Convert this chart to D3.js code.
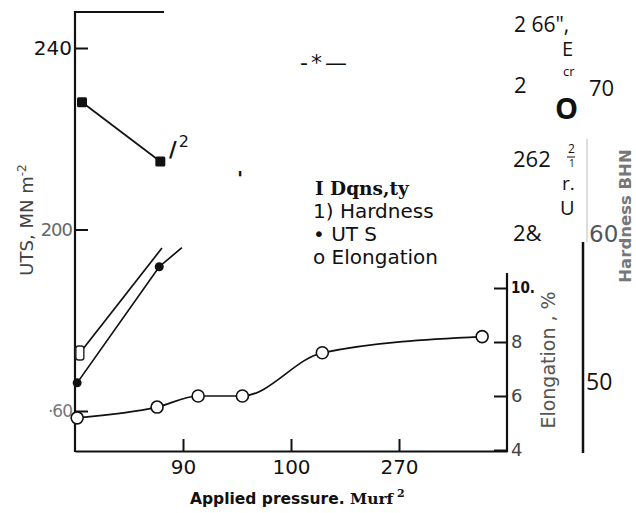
<!DOCTYPE html>
<html>
<head>
<meta charset="utf-8">
<script src="https://cdn.jsdelivr.net/npm/d3@7/dist/d3.min.js"></script>
<style>
  html, body { margin: 0; padding: 0; background: #fff; }
  svg { display: block; }
</style>
</head>
<body>
<svg id="chart" width="636" height="513"></svg>
<script>
// ---------------- data ----------------
const pressureTickPos = [1, 2, 3];
const pressureTickLabels = ["90", "100", "270"];

const utsTickValues = [240, 200, 160];
const utsTickLabels = ["240", "200", "·60"];

const elongTickValues = [10, 8, 6, 4];
const elongTickLabels = ["10.", "8", "6", "4"];

const hardTickValues = [60, 50];
const hardTickLabels = ["60", "50"];

// hardness, upper curve (filled squares)
const hardTopX = [0.065, 0.79];
const hardTop = [68.9, 64.9];

// hardness, lower curve (open square start, fades out)
const hardLowX = [0.045, 0.805];
const hardLow = [51.96, 59.05];

// UTS (filled dots), last point where trace fades out
const utsX = [0.02, 0.78, 0.99];
const utsVal = [166.2, 191.8, 196.0];

// elongation (open circles)
const elongX = [0.02, 0.76, 1.14, 1.55, 2.29, 3.77];
const elongVal = [5.19, 5.59, 6.0, 6.0, 7.6, 8.2];

// ---------------- scales ----------------
const svg = d3.select("#chart");
const x = d3.scaleLinear().domain([0, 4]).range([75, 507]);
const yUTS = d3.scaleLinear().domain([160, 240]).range([411, 48]);
const yHard = d3.scaleLinear().domain([50, 70]).range([382, 86]);
const yEl = d3.scaleLinear().domain([4, 10]).range([450, 288]);

const SANS = "'DejaVu Sans', sans-serif";
const OPEN = "'Open Sans', 'DejaVu Sans', sans-serif";

// ---------------- frame ----------------
const frame = svg.append("g").attr("stroke", "#111").attr("stroke-width", 2.2).attr("fill", "none");
frame.append("line").attr("x1", x(0)).attr("x2", x(0)).attr("y1", 11).attr("y2", 452);
frame.append("line").attr("x1", x(0)).attr("x2", 164).attr("y1", 12).attr("y2", 12);
frame.append("line").attr("x1", x(4)).attr("x2", x(4)).attr("y1", 273).attr("y2", 452);

// bottom axis
const xAxis = d3.axisBottom(x)
  .tickValues(pressureTickPos)
  .tickSizeInner(-12).tickSizeOuter(0)
  .tickPadding(9)
  .tickFormat((d, i) => pressureTickLabels[i]);
const gx = svg.append("g").attr("transform", "translate(0,451)").call(xAxis);
gx.select(".domain").attr("stroke", "#111").attr("stroke-width", 2.2);
gx.selectAll(".tick line").attr("stroke", "#111").attr("stroke-width", 2);
gx.selectAll(".tick text").attr("font-family", SANS).attr("font-size", 20).attr("fill", "#111");

// left axis (ticks inward)
const yAxisL = d3.axisLeft(yUTS).tickValues(utsTickValues).tickSizeInner(-13).tickSizeOuter(0).tickFormat("");
const gl = svg.append("g").attr("transform", `translate(${x(0)},0)`).call(yAxisL);
gl.select(".domain").remove();
gl.selectAll(".tick line").attr("stroke", "#111").attr("stroke-width", 2);

const utsLabStyle = [
  {size: 20, fill: "#111", fam: SANS},
  {size: 18, fill: "#666", fam: SANS},
  {size: 17, fill: "#777", fam: SANS}
];
svg.append("g").selectAll("text").data(utsTickValues).join("text")
  .attr("x", 72).attr("y", d => yUTS(d))
  .attr("dy", "0.36em")
  .attr("text-anchor", "end")
  .attr("font-family", (d, i) => utsLabStyle[i].fam)
  .attr("font-size", (d, i) => utsLabStyle[i].size)
  .attr("fill", (d, i) => utsLabStyle[i].fill)
  .attr("letter-spacing", (d, i) => i === 0 ? 0 : -1)
  .text((d, i) => utsTickLabels[i]);

// elongation axis (ticks inward, to the left)
const yAxisR = d3.axisLeft(yEl).tickValues(elongTickValues).tickSizeInner(13).tickSizeOuter(0).tickFormat("");
const gr = svg.append("g").attr("transform", `translate(${x(4)},0)`).call(yAxisR);
gr.select(".domain").remove();
gr.selectAll(".tick line").attr("stroke", "#111").attr("stroke-width", 2);
svg.append("g").selectAll("text").data(elongTickValues).join("text")
  .attr("x", 511).attr("y", d => yEl(d))
  .attr("dy", "0.36em")
  .attr("font-family", (d, i) => i === 0 ? "'DejaVu Sans Condensed', " + SANS : SANS)
  .attr("font-weight", (d, i) => i === 0 ? "bold" : "normal")
  .attr("font-size", (d, i) => i === 0 ? 15 : 18)
  .attr("fill", (d, i) => i === 0 ? "#111" : "#444")
  .text((d, i) => elongTickLabels[i]);

// hardness axis
svg.append("line").attr("x1", 587).attr("x2", 587).attr("y1", 139).attr("y2", 242)
  .attr("stroke", "#bbb").attr("stroke-width", 1);
svg.append("line").attr("x1", 583).attr("x2", 583).attr("y1", 242).attr("y2", 453)
  .attr("stroke", "#111").attr("stroke-width", 2.5);
svg.append("g").selectAll("text").data(hardTickValues).join("text")
  .attr("x", (d, i) => i === 0 ? 589 : 586)
  .attr("y", d => yHard(d))
  .attr("dy", "0.36em")
  .attr("font-family", (d, i) => i === 0 ? SANS : OPEN)
  .attr("font-size", 23)
  .attr("fill", (d, i) => i === 0 ? "#555" : "#111")
  .text((d, i) => hardTickLabels[i]);

// axis titles
svg.append("text")
  .attr("transform", "translate(33,220) rotate(-90)")
  .attr("text-anchor", "middle")
  .attr("font-family", SANS).attr("font-size", 18).attr("fill", "#444")
  .html("UTS, MN m<tspan dy='-7' font-size='12'>-2</tspan>");

svg.append("text")
  .attr("transform", "translate(555,360) rotate(-90)")
  .attr("text-anchor", "middle")
  .attr("font-family", SANS).attr("font-size", 19).attr("fill", "#555")
  .text("Elongation , %");

svg.append("text")
  .attr("transform", "translate(631,216) rotate(-90)")
  .attr("text-anchor", "middle")
  .attr("font-family", SANS).attr("font-weight", "bold").attr("font-size", 16.5).attr("fill", "#777")
  .text("Hardness BHN");

const xt = svg.append("text").attr("x", 190).attr("y", 504)
  .attr("font-size", 15.5).attr("font-weight", "bold").attr("fill", "#111");
xt.append("tspan").attr("font-family", SANS).text("Applied pressure. ");
xt.append("tspan").attr("font-family", "'DejaVu Serif', serif").text("Murf");
xt.append("tspan").attr("font-family", "'DejaVu Serif', serif").attr("font-size", 11).attr("dy", -7).text(" 2");

// ---------------- data lines ----------------
const lineW = 1.7;
const lHard = d3.line().x(d => x(d[0])).y(d => yHard(d[1]));
const lUts = d3.line().x(d => x(d[0])).y(d => yUTS(d[1]));
const lEl = d3.line().x(d => x(d[0])).y(d => yEl(d[1])).curve(d3.curveMonotoneX);

const hardTopData = hardTopX.map((v, i) => [v, hardTop[i]]);
const hardLowData = hardLowX.map((v, i) => [v, hardLow[i]]);
const utsData = utsX.map((v, i) => [v, utsVal[i]]);
const elData = elongX.map((v, i) => [v, elongVal[i]]);

svg.append("path").attr("d", lHard(hardTopData)).attr("fill", "none").attr("stroke", "#111").attr("stroke-width", lineW);
svg.append("path").attr("d", lHard(hardLowData)).attr("fill", "none").attr("stroke", "#111").attr("stroke-width", lineW);
svg.append("path").attr("d", lUts(utsData)).attr("fill", "none").attr("stroke", "#111").attr("stroke-width", lineW);
svg.append("path").attr("d", lEl(elData)).attr("fill", "none").attr("stroke", "#111").attr("stroke-width", lineW);

// markers
svg.append("g").selectAll("rect").data(hardTopData).join("rect")
  .attr("x", d => x(d[0]) - 5).attr("y", d => yHard(d[1]) - 5)
  .attr("width", 10).attr("height", 10).attr("rx", 1.5).attr("fill", "#111");
svg.append("g").selectAll("rect").data(hardLowData.slice(0, 1)).join("rect")
  .attr("x", d => x(d[0]) - 4).attr("y", d => yHard(d[1]) - 7)
  .attr("width", 8).attr("height", 14).attr("rx", 2.5)
  .attr("fill", "#fff").attr("stroke", "#222").attr("stroke-width", 1.4);
svg.append("g").selectAll("circle").data(utsData.slice(0, 2)).join("circle")
  .attr("cx", d => x(d[0])).attr("cy", d => yUTS(d[1])).attr("r", 4.5).attr("fill", "#111");
svg.append("g").selectAll("circle").data(elData).join("circle")
  .attr("cx", d => x(d[0])).attr("cy", d => yEl(d[1])).attr("r", 6)
  .attr("fill", "#fff").attr("stroke", "#111").attr("stroke-width", 1.6);

// ---------------- stray annotations ----------------
const s1 = svg.append("text").attr("x", 169).attr("y", 157).attr("fill", "#111");
s1.append("tspan").attr("font-family", SANS).attr("font-weight", "bold").attr("font-size", 21).text("/");
s1.append("tspan").attr("font-family", SANS).attr("font-size", 16).attr("dy", -10).attr("dx", 2).text("2");
svg.append("text").attr("x", 237).attr("y", 185).attr("font-family", SANS).attr("font-weight", "bold")
  .attr("font-size", 20).attr("fill", "#111").text("'");
svg.append("text").attr("x", 300).attr("y", 70).attr("font-family", SANS).attr("font-size", 22)
  .attr("letter-spacing", 3).attr("fill", "#111").text("-*—");

// legend
svg.append("text").attr("x", 315).attr("y", 195).attr("font-family", "'DejaVu Serif', serif")
  .attr("font-weight", "bold").attr("font-size", 18.5).attr("fill", "#111").text("I Dqns,ty");
const legendItems = ["1) Hardness", "• UT S", "o Elongation"];
svg.append("g").selectAll("text").data(legendItems).join("text")
  .attr("x", 313).attr("y", (d, i) => 218 + i * 23)
  .attr("font-family", SANS).attr("font-size", 20).attr("fill", "#111")
  .text(d => d);

// right-hand text column
const rightTexts = [
  {t: "2 66\",", x: 514, y: 32, s: 21},
  {t: "E", x: 562, y: 56, s: 20},
  {t: "cr", x: 563, y: 76, s: 13},
  {t: "2", x: 514, y: 93, s: 22},
  {t: "70", x: 589, y: 96, s: 22},
  {t: "O", x: 555, y: 119, s: 29, w: "bold"},
  {t: "262", x: 513, y: 167, s: 22},
  {t: "2", x: 568, y: 153, s: 12},
  {t: "1", x: 569, y: 167, s: 10},
  {t: "r.", x: 562, y: 190, s: 19},
  {t: "U", x: 560, y: 215, s: 20},
  {t: "2&", x: 513, y: 241, s: 22}
];
svg.append("g").selectAll("text").data(rightTexts).join("text")
  .attr("x", d => d.x).attr("y", d => d.y)
  .attr("font-family", OPEN).attr("font-size", d => d.s)
  .attr("font-weight", d => d.w || "normal")
  .attr("fill", "#111").text(d => d.t);
svg.append("line").attr("x1", 567).attr("x2", 575).attr("y1", 157).attr("y2", 157)
  .attr("stroke", "#111").attr("stroke-width", 1);
</script>
</body>
</html>
